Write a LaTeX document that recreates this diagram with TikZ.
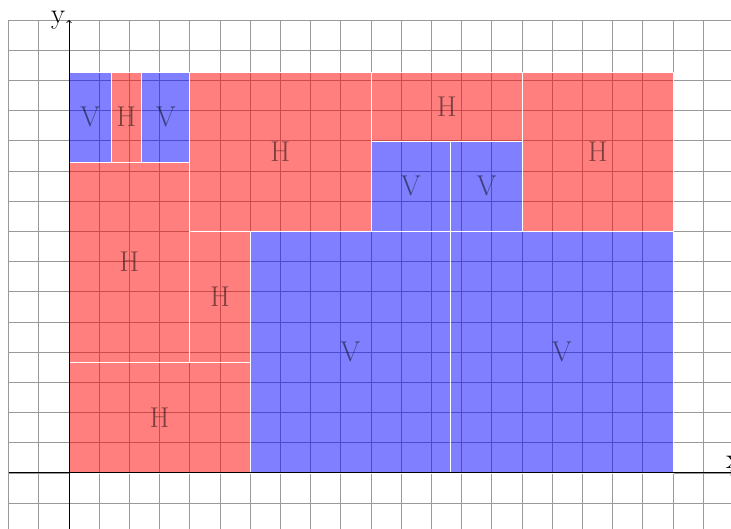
\documentclass[tikz,border=0pt]{standalone}
\begin{document}
\begin{tikzpicture}[
  gridline/.style={draw=gray!80, line width=0.7pt},
  axis/.style={draw=black, line width=0.9pt, ->},
  cell/.style={draw=white, line width=0.8pt, fill opacity=0.5, text opacity=0.5,
    inner sep=0pt, outer sep=0pt, anchor=south west, text=black,
    font=\fontsize{27}{32}\selectfont},
  hcell/.style={cell, fill=red},
  vcell/.style={cell, fill=blue},
  axlabel/.style={font=\fontsize{27}{32}\selectfont}
]
\useasboundingbox (-2.285,-1.854) rectangle (21.92,15.66);
\draw[gridline] (-2,-2) grid (22,15);
% rectangles
\node[hcell, minimum width=6cm,    minimum height=3.675cm] (r1)  at (0,0)          {H};
\node[hcell, minimum width=4cm,    minimum height=6.615cm] (r2)  at (0,3.675)      {H};
\node[hcell, minimum width=2cm,    minimum height=4.335cm] (r3)  at (4,3.675)      {H};
\node[vcell, minimum width=6.63cm, minimum height=8.01cm]  (r4)  at (6,0)          {V};
\node[vcell, minimum width=7.37cm, minimum height=8.01cm]  (r5)  at (12.63,0)      {V};
\node[vcell, minimum width=1.39cm, minimum height=2.98cm]  (r6)  at (0,10.29)      {V};
\node[hcell, minimum width=1.02cm, minimum height=2.98cm]  (r7)  at (1.39,10.29)   {H};
\node[vcell, minimum width=1.59cm, minimum height=2.98cm]  (r8)  at (2.41,10.29)   {V};
\node[hcell, minimum width=6cm,    minimum height=5.26cm]  (r9)  at (4,8.01)       {H};
\node[hcell, minimum width=5.02cm, minimum height=2.28cm]  (r10) at (10,10.99)     {H};
\node[vcell, minimum width=2.63cm, minimum height=2.98cm]  (r11) at (10,8.01)      {V};
\node[vcell, minimum width=2.39cm, minimum height=2.98cm]  (r12) at (12.63,8.01)   {V};
\node[hcell, minimum width=4.98cm, minimum height=5.26cm]  (r13) at (15.02,8.01)   {H};
% axes
\coordinate (xs) at (-2,0);
\coordinate (xe) at (22,0);
\coordinate (ys) at (0,-2);
\coordinate (ye) at (0,15);
\draw[axis] (xs) -- (xe) node[axlabel, above] (xl) {x};
\draw[axis] (ys) -- (ye) node[axlabel, left] (yl) {y};
\end{tikzpicture}
\end{document}
